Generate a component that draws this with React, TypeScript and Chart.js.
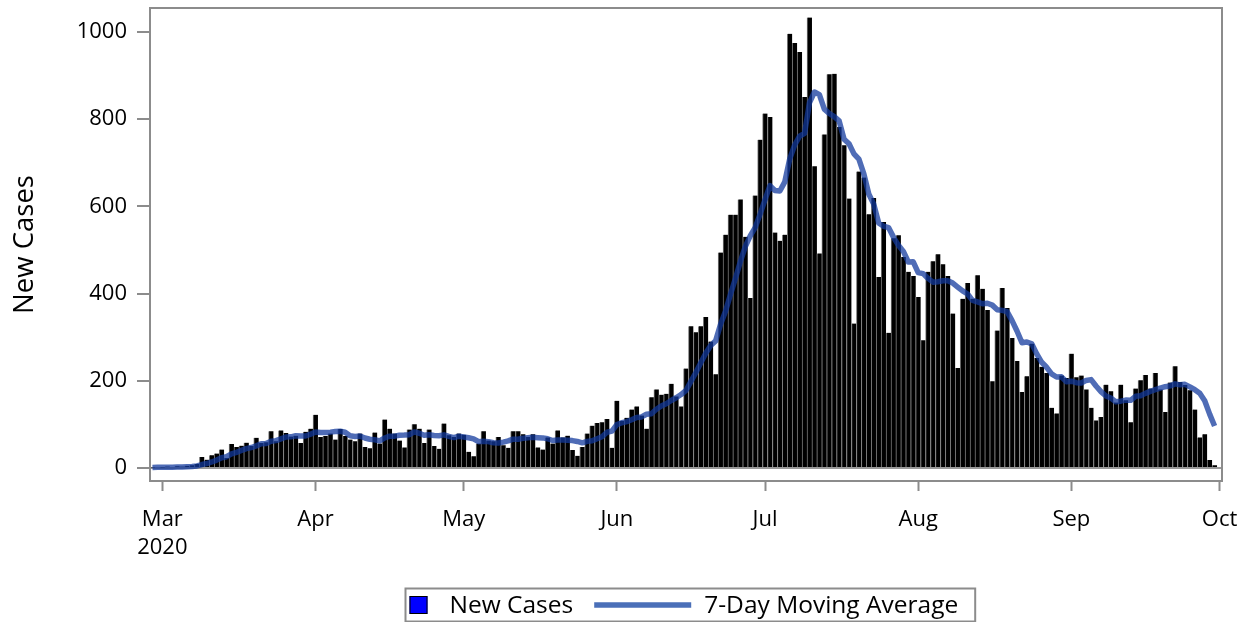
import React, { useEffect, useRef } from 'react';
import { Chart, registerables } from 'chart.js';

Chart.register(...registerables);

const FONT = '"Open Sans", "Noto Sans", sans-serif';

// Daily new cases, 2020-02-28 .. 2020-09-30
const febCases = [1, 2];
const marCases = [1, 3, 2, 4, 3, 5, 6, 9, 25, 19, 29, 33, 42, 23, 55, 48, 51, 58, 50, 69, 57, 59, 84, 61, 86, 80, 72, 74, 57, 83, 90];
const aprCases = [122, 71, 73, 79, 65, 89, 73, 65, 61, 79, 48, 45, 81, 56, 111, 90, 79, 63, 47, 88, 100, 90, 57, 88, 50, 44, 102, 75, 71, 79];
const mayCases = [76, 37, 27, 56, 84, 63, 61, 71, 52, 46, 84, 84, 77, 71, 77, 47, 42, 70, 56, 86, 70, 74, 41, 28, 48, 79, 97, 103, 105, 112, 46];
const junCases = [154, 108, 115, 134, 141, 120, 90, 162, 180, 168, 170, 193, 164, 141, 228, 325, 311, 325, 346, 290, 215, 494, 535, 581, 581, 616, 530, 390, 625, 753];
const julCases = [813, 805, 540, 521, 535, 996, 975, 954, 851, 1033, 692, 492, 765, 903, 904, 782, 740, 618, 331, 680, 666, 582, 619, 438, 564, 310, 527, 534, 484, 450, 440];
const augCases = [392, 293, 450, 474, 490, 467, 440, 354, 229, 388, 424, 388, 442, 411, 362, 199, 315, 413, 367, 298, 245, 174, 210, 285, 252, 232, 218, 138, 125, 212, 206];
const sepCases = [262, 208, 212, 180, 138, 109, 117, 191, 176, 150, 191, 155, 105, 182, 201, 213, 182, 218, 180, 128, 196, 233, 197, 190, 178, 134, 70, 77, 18, 6];

// 7-day moving average, same days
const febAvg = [1, 1.5];
const marAvg = [1.3, 1.8, 1.8, 2.2, 2.3, 2.9, 3.4, 4.6, 7.7, 10.1, 13.7, 18, 23.3, 25.7, 32.3, 35.6, 40.1, 44.3, 46.7, 50.6, 55.4, 56, 61.1, 62.6, 66.6, 70.9, 71.3, 73.7, 73.4, 73.3, 77.4];
const aprAvg = [82.6, 81.3, 81.4, 82.1, 83.3, 84.1, 81.7, 73.6, 72.1, 73, 68.6, 65.7, 64.6, 62.1, 68.7, 72.9, 72.9, 75, 75.3, 76.3, 82.6, 79.6, 74.9, 76.1, 74.3, 73.9, 75.9, 72.3, 69.6, 72.7];
const mayAvg = [71, 69.1, 66.7, 60.1, 61.4, 60.3, 57.7, 57, 59.1, 61.9, 65.9, 65.9, 67.9, 69.3, 70.1, 69.4, 68.9, 66.9, 62.9, 64.1, 64, 63.6, 62.7, 60.7, 57.6, 60.9, 62.4, 67.1, 71.6, 81.7, 84.3];
const junAvg = [99.4, 103.6, 106.1, 110.6, 115.7, 116.9, 123.1, 124.3, 134.6, 142.1, 147.3, 154.7, 161, 168.3, 177.7, 198.4, 218.9, 241, 262.9, 280.9, 291.4, 329.4, 359.4, 398, 434.6, 473.1, 507.4, 532.4, 551.1, 582.3];
const julAvg = [615.4, 647.4, 636.6, 635.3, 656, 709, 740.7, 760.9, 767.4, 837.9, 862.3, 856.1, 823.1, 812.9, 805.7, 795.9, 754, 743.4, 720.4, 708.3, 674.4, 628.4, 605.1, 562, 554.3, 551.3, 529.4, 510.6, 496.6, 472.4, 472.7];
const augAvg = [448.1, 445.7, 434.7, 426.1, 427, 429.4, 429.4, 424, 414.9, 406, 398.9, 384.3, 380.7, 376.6, 377.7, 373.4, 363, 361.4, 358.4, 337.9, 314.1, 287.3, 288.9, 284.6, 261.6, 242.3, 230.9, 215.6, 208.6, 208.9, 197.6];
const sepAvg = [199, 195.6, 194.7, 200.7, 202.6, 187.9, 175.1, 165, 160.4, 151.6, 153.1, 155.6, 155, 164.3, 165.7, 171, 175.6, 179.4, 183, 186.3, 188.3, 192.9, 190.6, 191.7, 186, 179.4, 171.1, 154.1, 123.4, 96.1];

const firstDay = '2020-02-28';
const lastDay = '2020-10-01';
const monthStarts = ['2020-03-01', '2020-04-01', '2020-05-01', '2020-06-01', '2020-07-01', '2020-08-01', '2020-09-01', '2020-10-01'];
const monthTickLabels = [['Mar', '2020'], ['Apr'], ['May'], ['Jun'], ['Jul'], ['Aug'], ['Sep'], ['Oct']];
const yTicks = [0, 200, 400, 600, 800, 1000];

const seriesCasesLabel = 'New Cases';
const seriesAvgLabel = '7-Day Moving Average';
const yTitle = 'New Cases';

function buildDates(start: string, end: string): string[] {
  const out: string[] = [];
  let t = Date.parse(start + 'T00:00:00Z');
  const stop = Date.parse(end + 'T00:00:00Z');
  while (t <= stop) {
    out.push(new Date(t).toISOString().slice(0, 10));
    t += 86400000;
  }
  return out;
}

const GREY = '#8c8c8c';

const frameLegendPlugin = {
  id: 'frameLegend',
  afterDraw(chart: any) {
    const { ctx, chartArea } = chart;
    ctx.save();
    // plot frame
    ctx.strokeStyle = GREY;
    ctx.lineWidth = 2;
    ctx.strokeRect(chartArea.left, chartArea.top, chartArea.right - chartArea.left, chartArea.bottom - chartArea.top);

    // y-axis title
    ctx.save();
    ctx.translate(25, (chartArea.top + chartArea.bottom) / 2);
    ctx.rotate(-Math.PI / 2);
    ctx.font = `27.5px ${FONT}`;
    ctx.fillStyle = '#000';
    ctx.textAlign = 'center';
    ctx.textBaseline = 'middle';
    ctx.fillText(yTitle, 0, 0);
    ctx.restore();

    // legend
    const fontPx = 24.5;
    ctx.font = `${fontPx}px ${FONT}`;
    const t1 = chart.data.datasets[1].label;
    const t2 = chart.data.datasets[0].label;
    const w1 = ctx.measureText(t1).width;
    const w2 = ctx.measureText(t2).width;
    const sq = 18;
    const padL = 4, gap1 = 22, gap2 = 21, lineLen = 97, gap3 = 13, padR = 17;
    const boxW = padL + sq + gap1 + w1 + gap2 + lineLen + gap3 + w2 + padR;
    const boxH = 33;
    const cx = 690;
    const bx = Math.round(cx - boxW / 2) + 0.5;
    const by = 588.5;
    const midY = by + boxH / 2;
    ctx.lineWidth = 2;
    ctx.strokeStyle = GREY;
    ctx.strokeRect(bx, by, boxW, boxH);
    let x = bx + padL;
    ctx.fillStyle = '#0000ff';
    ctx.fillRect(x, midY - sq / 2, sq, sq);
    ctx.lineWidth = 1;
    ctx.strokeStyle = '#000';
    ctx.strokeRect(x + 0.5, midY - sq / 2 + 0.5, sq - 1, sq - 1);
    x += sq + gap1;
    ctx.fillStyle = '#000';
    ctx.textBaseline = 'middle';
    ctx.textAlign = 'left';
    ctx.fillText(t1, x, midY + 1);
    x += w1 + gap2;
    ctx.strokeStyle = '#4a6fb8';
    ctx.lineWidth = 5.5;
    ctx.beginPath();
    ctx.moveTo(x, midY);
    ctx.lineTo(x + lineLen, midY);
    ctx.stroke();
    x += lineLen + gap3;
    ctx.fillText(t2, x, midY + 1);
    ctx.restore();
  },
};

export default function App() {
  const canvasRef = useRef<HTMLCanvasElement | null>(null);

  useEffect(() => {
    const dates = buildDates(firstDay, lastDay);
    const cases = [...febCases, ...marCases, ...aprCases, ...mayCases, ...junCases, ...julCases, ...augCases, ...sepCases];
    const avg = [...febAvg, ...marAvg, ...aprAvg, ...mayAvg, ...junAvg, ...julAvg, ...augAvg, ...sepAvg];
    const monthIdx = monthStarts.map((m) => dates.indexOf(m));

    const chart = new Chart(canvasRef.current as HTMLCanvasElement, {
      type: 'bar',
      data: {
        labels: dates,
        datasets: [
          {
            type: 'line',
            label: seriesAvgLabel,
            data: avg,
            borderColor: 'rgba(18, 56, 156, 0.74)',
            borderWidth: 5.5,
            pointRadius: 0,
            tension: 0,
            borderJoinStyle: 'round',
            order: 0,
          } as any,
          {
            type: 'bar',
            label: seriesCasesLabel,
            data: cases,
            backgroundColor: '#000000',
            borderColor: '#7a7a7a',
            borderWidth: { left: 1, right: 0, top: 0, bottom: 0 },
            barPercentage: 1,
            categoryPercentage: 1,
            order: 1,
          } as any,
        ],
      },
      options: {
        responsive: false,
        maintainAspectRatio: false,
        animation: false,
        layout: { padding: { top: 8, right: 28, left: 0, bottom: 0 } },
        plugins: {
          legend: { display: false },
          tooltip: { enabled: false },
        },
        scales: {
          x: {
            type: 'category',
            offset: true,
            afterBuildTicks: (s: any) => {
              s.ticks = monthIdx.map((v) => ({ value: v }));
            },
            afterFit: (s: any) => {
              s.height = 141;
              s.paddingLeft = 0;
              s.paddingRight = 0;
            },
            grid: {
              offset: false,
              drawOnChartArea: false,
              drawTicks: true,
              tickLength: 10,
              tickColor: GREY,
              tickWidth: 2,
            },
            border: { display: true, color: GREY, width: 2 },
            ticks: {
              autoSkip: false,
              maxRotation: 0,
              minRotation: 0,
              color: '#000',
              padding: 14,
              font: { family: FONT, size: 22, lineHeight: 1.3 },
              callback: (_v: any, i: number) => monthTickLabels[i],
            },
          },
          y: {
            type: 'linear',
            min: -30,
            max: 1055,
            afterBuildTicks: (s: any) => {
              s.ticks = yTicks.map((v) => ({ value: v }));
            },
            afterFit: (s: any) => {
              s.width = 150;
              s.paddingTop = 0;
              s.paddingBottom = 0;
            },
            grid: {
              color: (c: any) => (c.tick && c.tick.value === 0 ? '#9a9a9a' : 'rgba(0,0,0,0)'),
              lineWidth: 2,
              drawTicks: true,
              tickLength: 13,
              tickColor: GREY,
              tickWidth: 2,
            },
            border: { display: true, color: GREY, width: 2 },
            ticks: {
              color: '#000',
              padding: 10,
              font: { family: FONT, size: 22 },
              callback: (v: any) => String(v),
            },
          },
        },
      },
      plugins: [frameLegendPlugin],
    } as any);

    return () => chart.destroy();
  }, []);

  return (
    <div style={{ position: 'fixed', left: 0, top: 0, width: 1250, height: 622, background: '#fff' }}>
      <canvas ref={canvasRef} width={1250} height={622} style={{ width: 1250, height: 622, display: 'block' }} />
    </div>
  );
}
